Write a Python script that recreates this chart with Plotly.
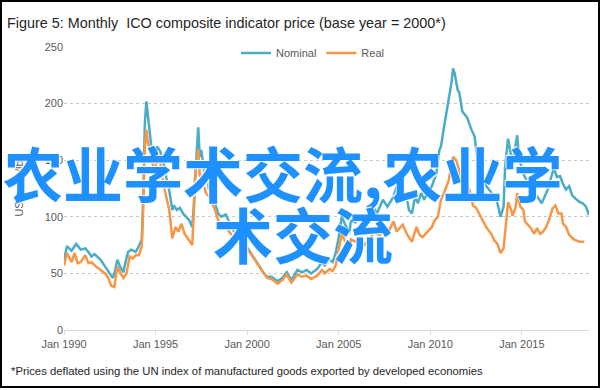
import plotly.graph_objects as go

# ---------------- data ----------------
nominal_dates = [
    "1990-01", "1990-03", "1990-06", "1990-09", "1990-12", "1991-03", "1991-05", "1991-07", "1991-09",
    "1992-01", "1992-04", "1992-07", "1992-09", "1992-10", "1992-12", "1993-02", "1993-04", "1993-05",
    "1993-07", "1993-09", "1993-12", "1994-02", "1994-04", "1994-05", "1994-06", "1994-07", "1994-08",
    "1994-09", "1994-10", "1994-12", "1995-02", "1995-04", "1995-06", "1995-08", "1995-10", "1995-12",
    "1996-01", "1996-03", "1996-05", "1996-07", "1996-09", "1996-11", "1997-01", "1997-02", "1997-03",
    "1997-04", "1997-05", "1997-06", "1997-07", "1997-09", "1997-10", "1997-12", "1998-02", "1998-04",
    "1998-06", "1998-08", "1998-11", "1999-01", "1999-04", "1999-07", "1999-11", "2000-02", "2000-05",
    "2000-09", "2000-12", "2001-02", "2001-05", "2001-09", "2001-12", "2002-03", "2002-06", "2002-10",
    "2003-01", "2003-04", "2003-07", "2003-11", "2004-02", "2004-04", "2004-07", "2004-09", "2004-11",
    "2005-01", "2005-03", "2005-05", "2005-08", "2005-09", "2005-12", "2006-03", "2006-06", "2006-09",
    "2006-12", "2007-02", "2007-06", "2007-09", "2008-01", "2008-03", "2008-07", "2008-09", "2008-11",
    "2009-01", "2009-03", "2009-05", "2009-07", "2009-09", "2009-11", "2010-02", "2010-05", "2010-07",
    "2010-08", "2010-10", "2011-01", "2011-03", "2011-04", "2011-05", "2011-07", "2011-08", "2011-10",
    "2011-11", "2012-01", "2012-04", "2012-06", "2012-08", "2012-10", "2012-12", "2013-03", "2013-07",
    "2013-09", "2013-11", "2014-01", "2014-02", "2014-04", "2014-05", "2014-07", "2014-08", "2014-10",
    "2014-11", "2015-02", "2015-04", "2015-06", "2015-07", "2015-09", "2015-11", "2016-02", "2016-04",
    "2016-06", "2016-08", "2016-10", "2016-12", "2017-02", "2017-04", "2017-06", "2017-08", "2017-10",
    "2018-01", "2018-03", "2018-05", "2018-07", "2018-09",
]
nominal_values = [
    62, 74, 70, 76, 71, 72, 69, 65, 67,
    62, 56, 50, 46, 50, 62, 55, 51, 58,
    69, 71, 69, 74, 80, 118, 182, 202, 191,
    176, 165, 150, 162, 158, 150, 135, 123, 106,
    110, 106, 108, 103, 100, 97, 91, 109, 135,
    156, 179, 153, 159, 138, 144, 124, 127, 112,
    103, 100, 102, 96, 88, 82, 77, 71, 65,
    56, 50, 47, 47, 43, 46, 51, 44, 53,
    51, 53, 50, 54, 60, 57, 62, 60, 68,
    82, 100, 94, 85, 97, 95, 100, 92, 100,
    108, 103, 115, 109, 118, 127, 118, 121, 106,
    103, 118, 112, 121, 115, 121, 127, 138, 159,
    162, 179, 203, 219, 231, 227, 212, 210, 193,
    191, 188, 177, 171, 150, 140, 130, 125, 118,
    112, 100, 109, 144, 169, 162, 144, 156, 172,
    153, 138, 132, 127, 118, 115, 118, 112, 118,
    124, 134, 143, 135, 136, 129, 124, 127, 119,
    115, 113, 112, 109, 101.5,
]

real_dates = [
    "1990-01", "1990-03", "1990-06", "1990-08", "1990-10", "1990-12", "1991-03", "1991-05", "1991-07",
    "1991-10", "1992-01", "1992-04", "1992-06", "1992-08", "1992-10", "1992-12", "1993-02", "1993-04",
    "1993-06", "1993-08", "1993-10", "1993-12", "1994-02", "1994-04", "1994-05", "1994-06", "1994-07",
    "1994-08", "1994-10", "1994-12", "1995-02", "1995-04", "1995-06", "1995-08", "1995-10", "1995-12",
    "1996-02", "1996-04", "1996-06", "1996-08", "1996-10", "1997-01", "1997-02", "1997-03", "1997-05",
    "1997-06", "1997-07", "1997-10", "1997-12", "1998-02", "1998-04", "1998-06", "1998-08", "1998-11",
    "1999-01", "1999-04", "1999-07", "1999-11", "2000-02", "2000-05", "2000-09", "2000-12", "2001-02",
    "2001-05", "2001-09", "2001-12", "2002-03", "2002-06", "2002-10", "2003-01", "2003-04", "2003-07",
    "2003-11", "2004-02", "2004-04", "2004-07", "2004-09", "2004-11", "2005-01", "2005-03", "2005-05",
    "2005-08", "2005-09", "2005-12", "2006-03", "2006-06", "2006-09", "2006-12", "2007-04", "2007-06",
    "2007-10", "2008-01", "2008-03", "2008-07", "2008-10", "2009-01", "2009-04", "2009-06", "2009-08",
    "2009-11", "2010-02", "2010-04", "2010-06", "2010-08", "2010-10", "2011-01", "2011-03", "2011-04",
    "2011-06", "2011-07", "2011-08", "2011-10", "2012-01", "2012-03", "2012-05", "2012-07", "2012-09",
    "2012-11", "2013-02", "2013-05", "2013-07", "2013-09", "2013-11", "2014-01", "2014-03", "2014-04",
    "2014-06", "2014-07", "2014-09", "2014-10", "2014-12", "2015-02", "2015-03", "2015-05", "2015-07",
    "2015-09", "2015-11", "2016-01", "2016-03", "2016-05", "2016-07", "2016-09", "2016-11", "2017-01",
    "2017-03", "2017-04", "2017-06", "2017-08", "2017-11", "2018-01", "2018-03", "2018-06",
]
real_values = [
    57, 68, 60, 68, 59, 60, 66, 59, 60,
    56, 53, 50, 46, 39, 38, 56, 50, 46,
    50, 65, 63, 66, 66, 74, 109, 162, 177,
    166, 155, 140, 150, 150, 130, 118, 106, 81,
    91, 87, 94, 85, 81, 75, 103, 135, 160,
    135, 138, 121, 118, 112, 106, 97, 94, 91,
    87, 82, 77, 74, 70, 64, 55, 50, 46,
    45, 41, 44, 49, 42, 49, 47, 48, 45,
    48, 53, 50, 54, 52, 57, 71, 85, 79,
    73, 80, 78, 82, 75, 80, 86, 84, 87,
    88, 96, 87, 93, 84, 78, 91, 84, 82,
    87, 91, 97, 100, 115, 121, 132, 147, 153,
    150, 146, 141, 131, 129, 123, 110, 108, 103,
    97, 90, 85, 79, 76, 68, 72, 97, 113,
    106, 101, 109, 121, 109, 106, 96, 93, 90,
    85, 90, 85, 87, 91, 98, 107, 110, 103,
    103, 94, 91, 84, 80, 79, 78, 78,
]

tick_vals = ["1990-01-01", "1995-01-01", "2000-01-01", "2005-01-01", "2010-01-01", "2015-01-01"]
tick_text = ["Jan 1990", "Jan 1995", "Jan 2000", "Jan 2005", "Jan 2010", "Jan 2015"]
y_ticks = [0, 50, 100, 150, 200, 250]

# ---------------- layout geometry ----------------
W, H = 604, 390
ML, MR, MT, MB = 64, 15, 47, 60
PW, PH = W - ML - MR, H - MT - MB


def px_x(px):
    return (px - ML) / PW


def px_y(py):
    return (H - MB - py) / PH


TXT = "#595959"
FONT = "Liberation Sans"

fig = go.Figure()
fig.add_trace(go.Scatter(x=nominal_dates, y=nominal_values, mode="lines", name="Nominal",
                         line=dict(color="#4BACC6", width=2.5)))
fig.add_trace(go.Scatter(x=real_dates, y=real_values, mode="lines", name="Real",
                         line=dict(color="#F79646", width=2.5)))

fig.update_layout(
    width=W, height=H,
    margin=dict(l=ML, r=MR, t=MT, b=MB),
    paper_bgcolor="white", plot_bgcolor="white",
    font=dict(family=FONT, size=11, color=TXT),
    showlegend=True,
    legend=dict(orientation="h", x=px_x(236), y=px_y(53), xanchor="left", yanchor="middle",
                font=dict(size=11, color=TXT), bgcolor="rgba(0,0,0,0)", tracegroupgap=0,
                itemwidth=30),
    xaxis=dict(range=["1990-01-01", "2018-09-01"], tickvals=tick_vals, ticktext=tick_text,
               showgrid=False, showline=True, linecolor="#D9D9D9", linewidth=1,
               ticks="outside", ticklen=4, tickcolor="#D9D9D9", zeroline=False,
               tickfont=dict(size=11, color=TXT)),
    yaxis=dict(range=[0, 250], tickvals=y_ticks, showgrid=True, gridcolor="#C8C8C8",
               griddash="dot", gridwidth=1, zeroline=False, showline=False,
               ticks="", tickfont=dict(size=11, color=TXT),
               title=dict(text="US cents/lb", font=dict(size=11, color=TXT), standoff=18)),
)

annotations = [
    dict(text="Figure 5: Monthly  ICO composite indicator price (base year = 2000*)",
         xref="paper", yref="paper",
         x=px_x(5), y=px_y(23), xanchor="left", yanchor="middle", showarrow=False,
         font=dict(size=14.4, color="#262626", family=FONT)),
    dict(text="*Prices deflated using the UN index of manufactured goods exported by developed economies",
         xref="paper", yref="paper",
         x=px_x(9), y=px_y(371), xanchor="left", yanchor="middle", showarrow=False,
         font=dict(size=11.3, color="#262626", family=FONT)),
    dict(text="农业学术交流,农业学",
         xref="paper", yref="paper",
         x=px_x(1), y=px_y(171), xanchor="left", yanchor="middle", showarrow=False,
         font=dict(size=60, color="#1E90FF", family="Noto Sans CJK SC", weight=700,
                   shadow="1px 1px 1px #ffffff, -1px -1px 1px #ffffff")),
    dict(text="术交流",
         xref="paper", yref="paper",
         x=px_x(303), y=px_y(232), xanchor="center", yanchor="middle", showarrow=False,
         font=dict(size=60, color="#1E90FF", family="Noto Sans CJK SC", weight=700,
                   shadow="1px 1px 1px #ffffff, -1px -1px 1px #ffffff")),
]
fig.update_layout(annotations=annotations)

fig.add_shape(type="rect", xref="paper", yref="paper",
              x0=px_x(1), x1=px_x(599), y0=px_y(387), y1=px_y(1),
              line=dict(color="black", width=2), fillcolor="rgba(0,0,0,0)", layer="above")

fig.write_html("out.html", config={"displayModeBar": False})

# remove the browser's default page margin so the figure sits at (0, 0)
with open("out.html", "r", encoding="utf-8") as f:
    html = f.read()
html = html.replace("<head>", "<head><style>html,body{margin:0;padding:0;overflow:hidden;}</style>", 1)
with open("out.html", "w", encoding="utf-8") as f:
    f.write(html)
